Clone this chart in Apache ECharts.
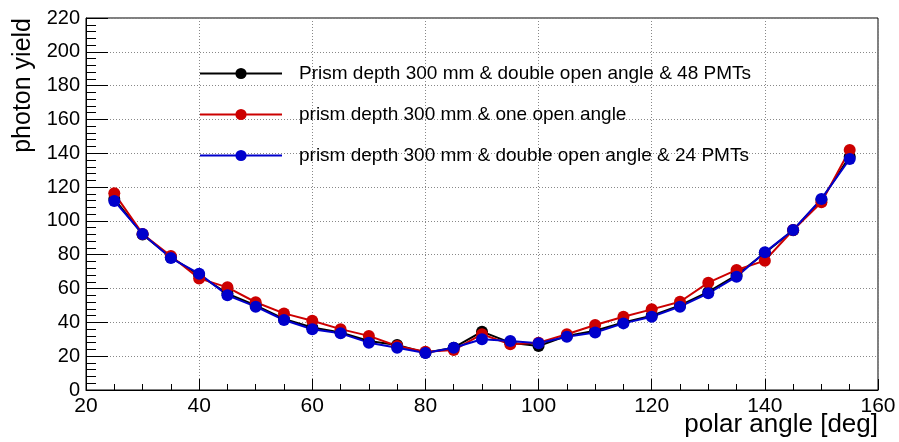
<!DOCTYPE html>
<html>
<head>
    <meta charset="utf-8">
    <script src="https://cdn.jsdelivr.net/npm/echarts@6/dist/echarts.min.js"></script>
</head>
<body style="margin:0">
    <div id="main" style="width:899px;height:442px"></div>

    <script type="text/javascript">
        // polar angle [deg]
        var angles = [25, 30, 35, 40, 45, 50, 55, 60, 65, 70, 75, 80, 85, 90,
                      95, 100, 105, 110, 115, 120, 125, 130, 135, 140, 145, 150, 155];
        // photon yield per configuration
        var yield48 = [113, 92, 78.5, 68, 57, 50, 42, 37, 34, 29, 26.6, 22, 25, 34.5,
                       28, 26, 32, 35, 40, 44, 50, 58, 68, 81, 94.5, 112.5, 138];
        var yieldOne = [116.3, 92.3, 79.2, 66, 60.7, 51.9, 45.3, 41, 36, 32, 26, 22.6, 23.6, 33,
                        27, 28, 33, 38.4, 43.3, 47.7, 52.2, 63.5, 71, 76.5, 94.6, 111, 141.9];
        var yield24 = [111.8, 92.3, 78, 68.8, 56, 49.3, 41.4, 35.9, 33.5, 28, 25, 21.9, 25, 30,
                       29, 27.6, 31.5, 34, 39.4, 43.3, 49.3, 57.2, 67, 81.4, 94.6, 113, 136.6];
        var names = ['Prism depth 300 mm & double open angle & 48 PMTs',
                     'prism depth 300 mm & one open angle',
                     'prism depth 300 mm & double open angle & 24 PMTs'];
        var colors = ['#000000', '#cc0000', '#0000cc'];

        function pairs(ys) {
            return angles.map(function (a, i) { return [a, ys[i]]; });
        }

        var font = 'Liberation Sans, Arial, sans-serif';
        var myChart = echarts.init(document.getElementById('main'));
        var option = {
            animation: false,
            backgroundColor: '#fff',
            grid: {
                left: 86, right: 21, top: 18, bottom: 52,
                show: true, borderColor: '#000', borderWidth: 1
            },
            legend: {
                orient: 'vertical',
                left: 194, top: 59,
                itemWidth: 82, itemHeight: 14, itemGap: 22,
                data: names,
                textStyle: { fontFamily: font, fontSize: 19, color: '#000', padding: [0, 0, 0, 12] }
            },
            xAxis: {
                type: 'value', min: 20, max: 160, interval: 20,
                axisLine: { lineStyle: { color: '#000', width: 1 } },
                axisTick: { inside: true, length: 11, lineStyle: { color: '#000' } },
                minorTick: { show: true, splitNumber: 4, length: 6, lineStyle: { color: '#000' } },
                axisLabel: { fontFamily: font, fontSize: 21, color: '#000', margin: 6 },
                splitLine: { show: true, lineStyle: { color: '#888', type: [1, 2] } }
            },
            yAxis: {
                type: 'value', min: 0, max: 220, interval: 20,
                axisLine: { show: true, lineStyle: { color: '#000', width: 1 } },
                axisTick: { show: true, inside: true, length: 22, lineStyle: { color: '#000' } },
                minorTick: { show: true, splitNumber: 5, length: 10, lineStyle: { color: '#000' } },
                axisLabel: { fontFamily: font, fontSize: 20, color: '#000', margin: 6 },
                splitLine: { show: true, lineStyle: { color: '#888', type: [1, 2] } }
            },
            graphic: [{
                type: 'text', x: 23, y: 18, rotation: Math.PI / 2,
                style: { text: 'photon yield', font: '25px ' + font, fill: '#000',
                         textAlign: 'right', textVerticalAlign: 'middle' }
            }, {
                type: 'text', x: 878, y: 425,
                style: { text: 'polar angle [deg]', font: '26px ' + font, fill: '#000',
                         textAlign: 'right', textVerticalAlign: 'middle' }
            }],
            series: [yield48, yieldOne, yield24].map(function (ys, k) {
                return {
                    name: names[k],
                    type: 'line',
                    data: pairs(ys),
                    symbol: 'circle',
                    symbolSize: 12,
                    showAllSymbol: true,
                    color: colors[k],
                    lineStyle: { color: colors[k], width: 2 },
                    itemStyle: { color: colors[k] }
                };
            })
        };
        myChart.setOption(option);
    </script>
</body>
</html>
